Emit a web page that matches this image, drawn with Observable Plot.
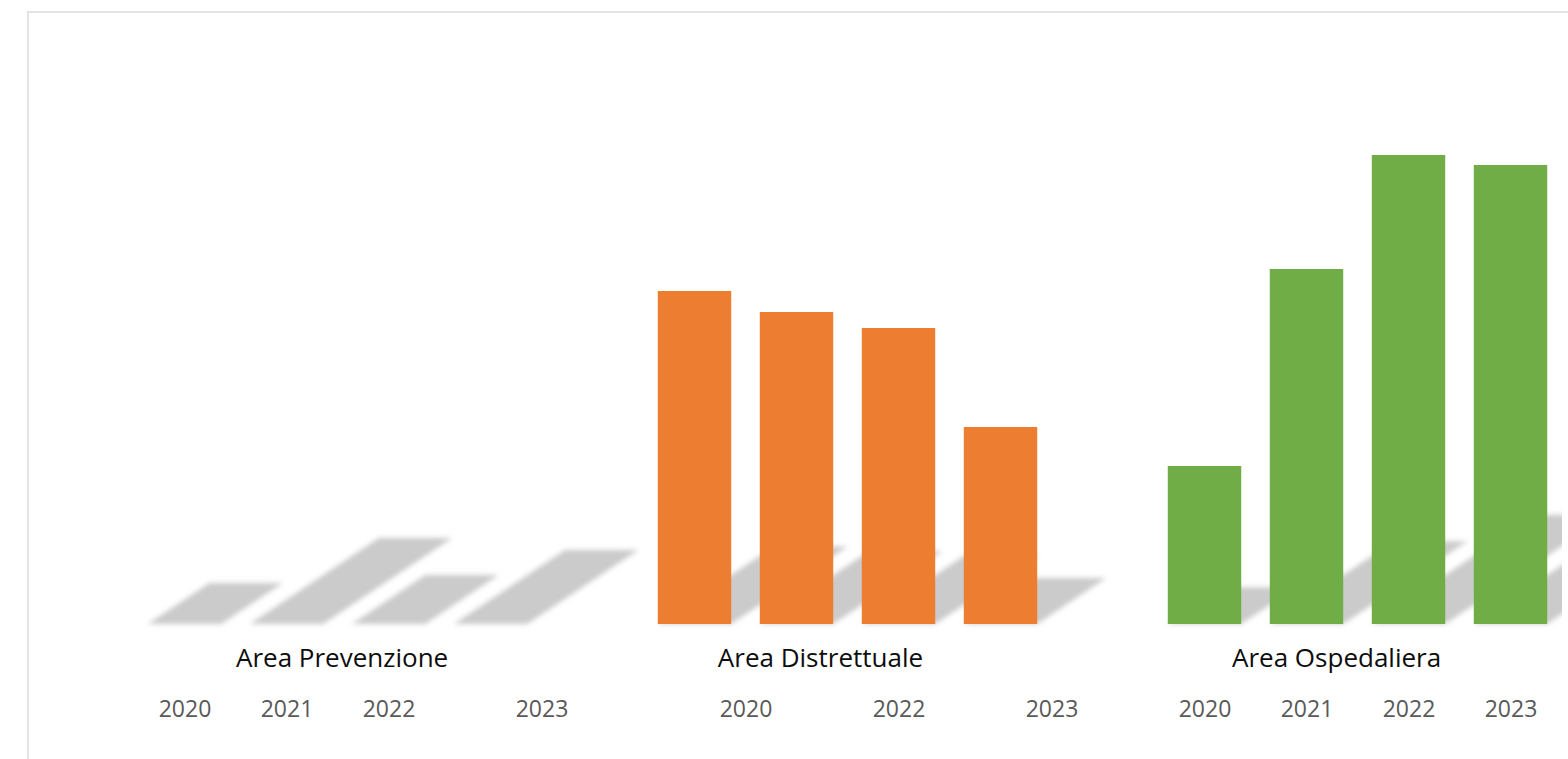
<!DOCTYPE html>
<html>
<head>
<meta charset="utf-8">
<script src="https://cdn.jsdelivr.net/npm/d3@7"></script>
<script src="https://cdn.jsdelivr.net/npm/@observablehq/plot@0.6"></script>
<style>
  html, body { margin: 0; padding: 0; background: #fff; }
  body { width: 1568px; height: 759px; overflow: hidden; position: relative; font-family: "Open Sans", sans-serif; }
  #frame { position: absolute; left: 27px; top: 11px; width: 1600px; height: 800px; border: 2px solid #e3e3e3; box-sizing: border-box; }
  #chart { position: absolute; left: 0; top: 0; }
</style>
</head>
<body>
<div id="frame"></div>
<div id="chart"></div>
<script>
// ---- data ----
const categories = ["Area Prevenzione", "Area Distrettuale", "Area Ospedaliera"];
const years = ["2020", "2021", "2022", "2023"];
const prevenzione = [176, 369, 210, 318];
const distrettuale = [333, 312, 296, 197];
const ospedaliera = [158, 355, 469, 459];
const seriesColors = ["none", "#ED7D31", "#70AD47"];
// year tick labels as shown under the groups (position in bar slots, label)
const yearTickPositions = [0, 1, 2, 3.5, 5.5, 7, 8.5, 10, 11, 12, 13];
const yearTickLabels = ["2020", "2021", "2022", "2023", "2020", "2022", "2023", "2020", "2021", "2022", "2023"];
const categoryLabelPositions = [1.54, 6.23, 11.29];

// ---- table ----
const seriesValues = [prevenzione, distrettuale, ospedaliera];
const table = [];
categories.forEach((c, g) => {
  years.forEach((y, i) => {
    table.push({category: c, year: y, value: seriesValues[g][i], slot: g * (years.length + 1) + i, color: seriesColors[g]});
  });
});
const half = 0.36;
const yearLabelByPos = new Map(yearTickPositions.map((p, i) => [p, yearTickLabels[i]]));
const catLabelByPos = new Map(categoryLabelPositions.map((p, i) => [p, categories[i]]));

const plot = Plot.plot({
  width: 1568,
  height: 759,
  marginTop: 0,
  marginBottom: 135,
  marginLeft: 0,
  marginRight: 0,
  style: {background: "transparent", fontFamily: "'Open Sans', sans-serif"},
  x: {type: "linear", domain: [0, 13], range: [184.5, 1510.5], axis: null},
  y: {type: "linear", domain: [0, 500], range: [624, 124], axis: null},
  marks: [
    Plot.rect(table, {
      x1: d => d.slot - half, x2: d => d.slot + half,
      y1: d => 0, y2: "value",
      fill: "#cbcbcb"
    }),
    Plot.rect(table, {
      x1: d => d.slot - half, x2: d => d.slot + half,
      y1: d => 0, y2: "value",
      fill: d => d.color
    }),
    Plot.axisX(categoryLabelPositions, {
      tickFormat: d => catLabelByPos.get(d),
      tickSize: 0, tickPadding: 24, fontSize: 26, color: "#0d0d0d", textAnchor: "middle"
    }),
    Plot.axisX(yearTickPositions, {
      tickFormat: d => yearLabelByPos.get(d),
      tickSize: 0, tickPadding: 76, fontSize: 23, color: "#595959", textAnchor: "middle"
    })
  ]
});
document.getElementById("chart").appendChild(plot);

// ---- perspective shadow effect (skew + flatten + blur, clipped at chart edge) ----
const svg = plot.tagName.toLowerCase() === "svg" ? plot : plot.querySelector("svg");
const y0 = plot.scale("y").apply(0);
const ns = "http://www.w3.org/2000/svg";
const defs = document.createElementNS(ns, "defs");
defs.innerHTML = `<clipPath id="shadowClip"><rect x="0" y="0" width="1562" height="759"></rect></clipPath>
<filter id="shadowBlur" x="-10%" y="-20%" width="120%" height="140%"><feGaussianBlur stdDeviation="2.4"/></filter>`;
svg.insertBefore(defs, svg.firstChild);
const rectGroups = Array.from(svg.children).filter(el => el.tagName.toLowerCase() === "g" && el.querySelector("rect"));
const sg = rectGroups[0];
if (sg) {
  const wrap = document.createElementNS(ns, "g");
  wrap.setAttribute("clip-path", "url(#shadowClip)");
  const blur = document.createElementNS(ns, "g");
  blur.setAttribute("filter", "url(#shadowBlur)");
  sg.parentNode.insertBefore(wrap, sg);
  wrap.appendChild(blur);
  blur.appendChild(sg);
  sg.setAttribute("transform", `translate(0,${y0}) skewX(-56.31) scale(1,0.233) translate(0,${-y0})`);
}
</script>
</body>
</html>
